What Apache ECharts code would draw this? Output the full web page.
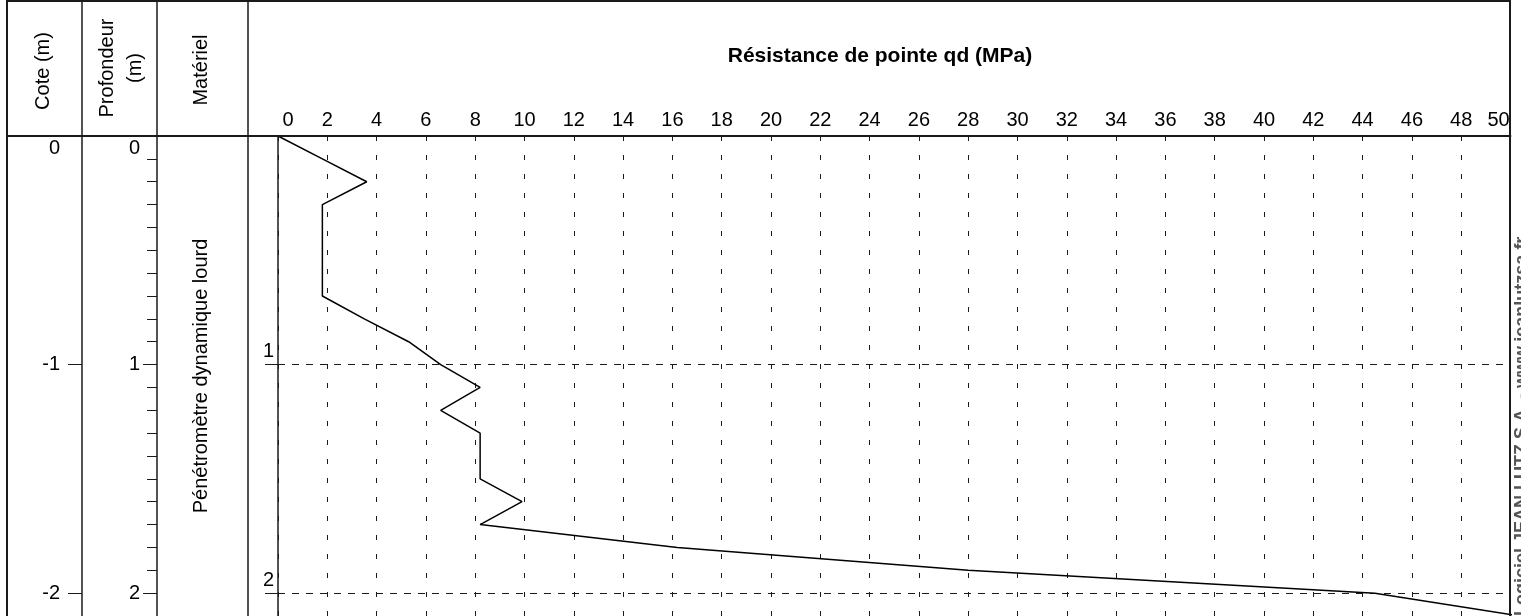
<!DOCTYPE html>
<html>
<head>
<meta charset="utf-8">
<script src="https://cdn.jsdelivr.net/npm/echarts@6/dist/echarts.min.js"></script>
<style>
html,body{margin:0;padding:0;background:#fff;}
#c{width:1521px;height:616px;}
</style>
</head>
<body>
<div id="c"></div>
<script>
// ---- data ----
const depths = [0, 0.1, 0.2, 0.3, 0.4, 0.5, 0.6, 0.7, 0.8, 0.9, 1.0, 1.1, 1.2, 1.3, 1.4, 1.5, 1.6, 1.7, 1.8, 1.9, 2.0, 2.1];
const qd     = [0, 1.8, 3.6, 1.8, 1.8, 1.8, 1.8, 1.8, 3.5, 5.3, 6.6, 8.2, 6.6, 8.2, 8.2, 8.2, 9.9, 8.2, 16.2, 28.0, 44.5, 50.4];
const headerTitles = ['Cote (m)', 'Profondeur\n(m)', 'Matériel'];
const materialLabel = 'Pénétromètre dynamique lourd';
const chartTitle = 'Résistance de pointe qd (MPa)';
const creditText = 'Logiciel JEAN LUTZ S.A. - www.jeanlutzsa.fr';
const qdMin = 0, qdMax = 50, qdStep = 2;
const depthMin = 0, depthMax = 2.1, depthStep = 1, depthMinorStep = 0.1;

// ---- chart ----
const FONT = '"Liberation Sans", Arial, Helvetica, sans-serif';
const ink = '#1a1a1a';
const isInt = v => Math.abs(v - Math.round(v)) < 1e-6;
const seriesData = depths.map((d, i) => [qd[i], d]);

const chart = echarts.init(document.getElementById('c'), null, {renderer: 'canvas'});

function vline(x, y1, y2, w) {
  return {type: 'line', silent: true, z: 50, shape: {x1: x, y1: y1, x2: x, y2: y2}, style: {stroke: ink, lineWidth: w || 1.5}};
}
function hline(y, x1, x2, w) {
  return {type: 'line', silent: true, z: 50, shape: {x1: x1, y1: y, x2: x2, y2: y}, style: {stroke: ink, lineWidth: w || 1.5}};
}
function txt(s, x, y, opts) {
  opts = opts || {};
  return {
    type: 'text', silent: true, z: 60, x: x, y: y, rotation: opts.rotation || 0,
    style: {
      text: s, fill: opts.color || '#000',
      fontSize: opts.size || 20, fontFamily: FONT, fontWeight: opts.weight || 'normal',
      lineHeight: opts.lineHeight || undefined,
      align: opts.align || 'center', verticalAlign: opts.valign || 'middle',
      textAlign: opts.align || 'center', textVerticalAlign: opts.valign || 'middle'
    }
  };
}

const depthAxisBase = {
  type: 'value', inverse: true, min: depthMin, max: depthMax, position: 'left',
  axisLine: {show: false}, splitLine: {show: false}
};

const option = {
  animation: false,
  backgroundColor: '#ffffff',
  textStyle: {fontFamily: FONT},
  grid: [
    {left: 82, top: 136, width: 75, height: 480, containLabel: false, outerBoundsMode: 'none'},
    {left: 157, top: 136, width: 91, height: 480, containLabel: false, outerBoundsMode: 'none'},
    {left: 278, top: 136, width: 1232.5, height: 480, containLabel: false, outerBoundsMode: 'none'}
  ],
  xAxis: [
    {gridIndex: 0, type: 'value', show: false, min: 0, max: 1},
    {gridIndex: 1, type: 'value', show: false, min: 0, max: 1},
    {
      gridIndex: 2, type: 'value', position: 'top', min: qdMin, max: qdMax, interval: qdStep,
      axisLine: {show: true, lineStyle: {color: '#444', width: 2}},
      axisTick: {show: false},
      axisLabel: {
        show: true, margin: 6, fontSize: 20, color: '#000', fontFamily: FONT,
        formatter: v => v === qdMin ? '{l|' + v + '}' : (v === qdMax ? '{r|' + v + '}' : String(v)),
        rich: {
          l: {fontSize: 20, color: '#000', fontFamily: FONT, padding: [0, 0, 0, 20]},
          r: {fontSize: 20, color: '#000', fontFamily: FONT, padding: [0, 24, 0, 0]}
        }
      },
      splitLine: {show: true, lineStyle: {type: [5, 14], color: ink, width: 1}}
    }
  ],
  yAxis: [
    Object.assign({}, depthAxisBase, {
      gridIndex: 0, interval: depthStep,
      axisTick: {show: true, length: 14, lineStyle: {color: ink, width: 1}},
      axisLabel: {
        show: true, margin: 22, fontSize: 20, color: '#000', fontFamily: FONT,
        formatter: v => !isInt(v) ? '' : (v === 0 ? '{t|0}' : '-' + Math.round(v)),
        rich: {t: {fontSize: 20, color: '#000', fontFamily: FONT, padding: [24, 0, 0, 0]}}
      }
    }),
    Object.assign({}, depthAxisBase, {
      gridIndex: 1, interval: depthStep,
      axisTick: {show: true, length: 14, lineStyle: {color: ink, width: 1}},
      axisLabel: {
        show: true, margin: 17, fontSize: 20, color: '#000', fontFamily: FONT,
        formatter: v => !isInt(v) ? '' : (v === 0 ? '{t|0}' : String(Math.round(v))),
        rich: {t: {fontSize: 20, color: '#000', fontFamily: FONT, padding: [24, 0, 0, 0]}}
      }
    }),
    Object.assign({}, depthAxisBase, {
      gridIndex: 1, interval: depthMinorStep,
      axisTick: {show: true, length: 10, lineStyle: {color: ink, width: 1}},
      axisLabel: {show: false}
    }),
    {
      gridIndex: 2, type: 'value', inverse: true, min: depthMin, max: depthMax, interval: depthStep, position: 'left',
      axisLine: {show: true, lineStyle: {color: ink, width: 1.5}},
      axisTick: {show: true, length: 13, lineStyle: {color: ink, width: 1}},
      axisLabel: {
        show: true, margin: 4, fontSize: 20, lineHeight: 26, color: '#000', fontFamily: FONT,
        verticalAlign: 'bottom', align: 'right',
        formatter: v => (isInt(v) && v > 0) ? String(Math.round(v)) : ''
      },
      splitLine: {show: true, lineStyle: {type: [7, 7], color: ink, width: 1}}
    }
  ],
  series: [{
    type: 'line', xAxisIndex: 2, yAxisIndex: 3, data: seriesData,
    symbol: 'none', showSymbol: false, clip: true, z: 10,
    lineStyle: {color: '#000', width: 1.5}
  }],
  graphic: [
    vline(7, 0, 616, 2),
    hline(1, 7, 1510, 2),
    vline(82, 0, 616),
    vline(157, 0, 616),
    vline(248, 0, 616),
    vline(1510, 0, 616, 2),
    hline(136, 7, 1510, 2),
    txt(headerTitles[0], 43, 71, {rotation: Math.PI / 2}),
    txt(headerTitles[1], 121, 68, {rotation: Math.PI / 2, lineHeight: 28}),
    txt(headerTitles[2], 201, 70, {rotation: Math.PI / 2}),
    txt(materialLabel, 201, 376, {rotation: Math.PI / 2}),
    txt(chartTitle, 880, 56, {size: 21, weight: 'bold'}),
    txt(creditText, 1513, 616, {rotation: Math.PI / 2, size: 18, weight: 'bold', color: '#555', align: 'left', valign: 'top'})
  ]
};
chart.setOption(option);
</script>
</body>
</html>
